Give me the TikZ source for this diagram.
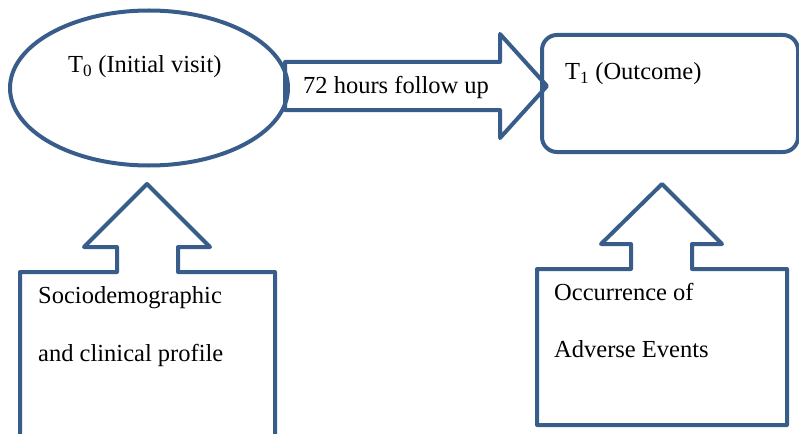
\documentclass[tikz,border=0pt]{standalone}
\usepackage{fontspec}
\setmainfont{Liberation Serif}
\usetikzlibrary{positioning,shapes.geometric}
\definecolor{shapeblue}{RGB}{56,93,138}

\begin{document}
\begin{tikzpicture}
[
x=1pt, y=-1pt,
shape-a/.style={draw=shapeblue, line width=4pt, line join=round},
text-a/.style={black, font=\fontsize{24.5}{28}\selectfont, inner sep=0pt, anchor=base west}
]
\useasboundingbox (0,0) rectangle (799,433);
\clip (0,0) rectangle (799,433);
% top row
\node (visit)      [shape-a, ellipse, minimum width=278pt, minimum height=155pt] at (149,88) {};
\node (outcome)    [shape-a, rounded corners=15pt, minimum width=256pt, minimum height=117pt] at (670,93.5) {};
\draw [shape-a] (285,62) -- (500,62) -- (500,34) -- (547,86) -- (500,138) -- (500,110) -- (285,110) -- cycle;
\node (visit-t)    [text-a] at (68,73)  {T\textsubscript{0} (Initial visit)};
\node (follow-t)   [text-a] at (303,93) {72 hours follow up};
\node (outcome-t)  [text-a] at (565,80) {T\textsubscript{1} (Outcome)};
% bottom row
\draw [shape-a] (117,272) -- (20,272) -- (20,450) -- (275,450) -- (275,272) -- (178,272)
  -- (178,247) -- (210,247) -- (147,184) -- (84,247) -- (117,247) -- cycle;
\draw [shape-a] (631,269) -- (537,269) -- (537,425) -- (787,425) -- (787,269) -- (692,269)
  -- (692,244) -- (722,244) -- (662,184) -- (601,244) -- (631,244) -- cycle;
\node (profile-1)  [text-a] at (38,303)  {Sociodemographic};
\node (profile-2)  [text-a, below = 58pt of profile-1.base west, anchor=base west] {and clinical profile};
\node (events-1)   [text-a] at (554,300) {Occurrence of};
\node (events-2)   [text-a, below = 57pt of events-1.base west, anchor=base west] {Adverse Events};
\end{tikzpicture}
\end{document}
